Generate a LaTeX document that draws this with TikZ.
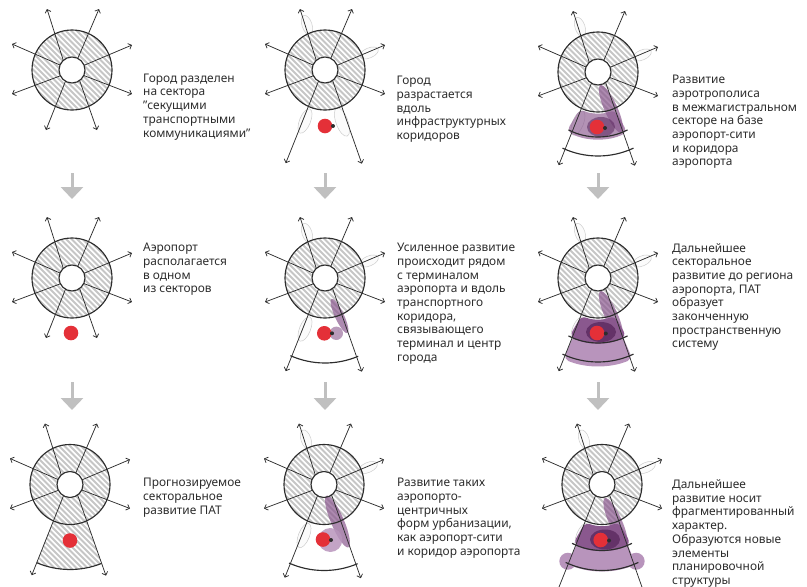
\documentclass[tikz,border=0pt]{standalone}
\usepackage{fontspec}
\setmainfont{Noto Sans}
\usetikzlibrary{calc,arrows.meta}

\definecolor{ink}{RGB}{45,45,45}
\definecolor{hatchgray}{RGB}{198,198,198}
\definecolor{flowgray}{RGB}{192,192,192}
\definecolor{dotred}{RGB}{228,48,56}
\definecolor{plumpale}{RGB}{184,148,188}
\definecolor{plummid}{RGB}{138,88,142}
\definecolor{plumdark}{RGB}{88,38,92}

\tikzset{
  ringline/.style={draw=ink, line width=1.15pt},
  hatchline/.style={draw=hatchgray, line width=2pt},
  cityarrow/.style={draw=ink, line width=0.75pt, -{Straight Barb[length=3pt,width=6pt]}},
  petal/.style={draw=gray!40, fill=gray!20, fill opacity=0.15, line width=0.5pt},
  corridor/.style={fill=plummid, fill opacity=0.7},
  flowarrow/.style={draw=flowgray, line width=3pt, -{Triangle[width=22pt,length=12pt]}},
  caption/.style={anchor=north west, align=left, inner sep=0pt, text=ink,
    font=\fontsize{11.9}{13.7}\selectfont},
}

\newcommand{\hatchfill}{%
  \foreach \k in {-121,-115.5,...,83} \draw[hatchline] (\k-90,-90) -- (\k+90,90);}

% #1 centre, #2 length of the two lower arrows, #3 under the arrows, #4 over them
\newcommand{\city}[4]{%
  \begin{scope}[shift={(#1)}]
    \begin{scope}
      \clip (0,0) circle (40);
      \hatchfill
    \end{scope}
    \fill[white] (0,0) circle (13);
    #3
    \draw[ringline] (0,0) circle (40) (0,0) circle (13);
    \draw[cityarrow] (-8.7,-9.6) -- (-25,-61);
    \draw[cityarrow] (5.8,-11.6) -- (27,-61);
    \draw[cityarrow] (12.1,-4.7) -- (60,-25);
    \draw[cityarrow] (11.8,5.5) -- (60,24);
    \draw[cityarrow] (-12,-5) -- (-60,-26);
    \draw[cityarrow] (-11.6,5.8) -- (-60,24);
    \draw[cityarrow] (-6.5,11.2) -- ($(-6.5,11.2)!#2!(-26,60)$);
    \draw[cityarrow] (7.6,10.5) -- ($(7.6,10.5)!#2!(25,60)$);
    #4
  \end{scope}}

\newcommand{\petals}{%
  \draw[petal, shift={(-18,-45)}, rotate=108] (0,0) ellipse [x radius=10, y radius=5];
  \draw[petal, shift={(44,-17)}, rotate=23] (0,0) ellipse [x radius=10, y radius=5];
  \draw[petal, shift={(-20,51)}, rotate=68] (0,0) ellipse [x radius=13, y radius=5.5];}

\begin{document}
\begin{tikzpicture}[x=1pt, y=-1pt]
\useasboundingbox (0,0) rectangle (807,587);
\clip (0,0) rectangle (807,587);

\coordinate (c1) at (72,70);
\coordinate (c2) at (325,70);
\coordinate (c3) at (598,72);
\coordinate (c4) at (72,278);
\coordinate (c5) at (325,278);
\coordinate (c6) at (598,278);
\coordinate (c7) at (70,484.5);
\coordinate (c8) at (324,484.5);
\coordinate (c9) at (602,484.5);

% first row
\city{c1}{1}{}{}
\city{c2}{1.68}{\petals
  \draw[petal, shift={(17,52)}, rotate=-70] (0,0) ellipse [x radius=15, y radius=6];}
 {\fill[dotred] (0,56) circle (7.3);
  \fill[ink] (8,56) circle (2);}
\city{c3}{1.68}{\petals
  \fill[plummid, fill opacity=0.65, rounded corners=6] (116:41) arc[start angle=116, end angle=66, radius=41]
    -- (64:67) arc[start angle=64, end angle=118, radius=67] -- cycle;
  \fill[corridor, shift={(13,37)}, rotate=-66] (0,0) ellipse [x radius=26, y radius=6.5];
  \fill[plumdark, fill opacity=0.55] (3,55) ellipse [x radius=14, y radius=10];}
 {\draw[ringline] (117:65) arc[start angle=117, end angle=63, radius=65];
  \draw[ringline] (115:84) arc[start angle=115, end angle=65, radius=84];
  \fill[dotred] (-1,55) circle (7.3);
  \fill[ink] (7,56) circle (2);}

% second row
\city{c4}{1}{}
 {\fill[dotred] (-1,55) circle (7.3);}
\city{c5}{1.68}{\petals
  \fill[corridor, shift={(14.5,38)}, rotate=-65] (0,0) ellipse [x radius=19, y radius=4.5];}
 {\draw[ringline] (114:85) arc[start angle=114, end angle=67, radius=85];
  \fill[plummid, fill opacity=0.6] (11.3,55.3) circle (6.7);
  \fill[dotred] (-0.7,55.3) circle (7.3);
  \fill[ink] (7,55.3) circle (2);}
\city{c6}{1.68}{\petals
  \fill[plumpale, rounded corners=5] (113:62) arc[start angle=113, end angle=67, radius=62]
    -- (67:88) arc[start angle=67, end angle=113, radius=88] -- cycle;
  \fill[plummid, rounded corners=6] (114:41) arc[start angle=114, end angle=66, radius=41]
    -- (64:65) arc[start angle=64, end angle=116, radius=65] -- cycle;
  \fill[corridor, shift={(13,37)}, rotate=-66] (0,0) ellipse [x radius=26, y radius=6.5];
  \fill[plumdark, fill opacity=0.75] (3,54) ellipse [x radius=15, y radius=10];}
 {\draw[ringline] (117:65) arc[start angle=117, end angle=63, radius=65];
  \draw[ringline] (115:84) arc[start angle=115, end angle=65, radius=84];
  \fill[dotred] (-1,55) circle (7.3);
  \fill[ink] (7.8,55.5) circle (2);}

% third row
\city{c7}{1.63}{%
  \begin{scope}
    \clip (-16,35) -- (113:85) arc[start angle=113, end angle=68.2, radius=85] -- (16,35) -- cycle;
    \hatchfill
  \end{scope}}
 {\draw[ringline] (113:85) arc[start angle=113, end angle=68.2, radius=85];
  \fill[dotred] (0,56) circle (7.3);}
\city{c8}{1.68}{\petals
  \fill[corridor, shift={(13.5,37)}, rotate=-67] (0,0) ellipse [x radius=28, y radius=6.5];
  \fill[plumpale, fill opacity=0.85] (6.3,55.5) circle (12);}
 {\draw[ringline] (114:86) arc[start angle=114, end angle=67, radius=86];
  \fill[dotred] (-1,55) circle (7.3);
  \fill[ink] (7,55.5) circle (2);}
\city{c9}{2.3}{\petals
  \fill[plumpale] (113:66) arc[start angle=113, end angle=67, radius=66]
    -- (67:87) arc[start angle=67, end angle=113, radius=87] -- cycle;
  \fill[plumpale] (114:84) circle (8.5) (66:84) circle (8.5);
  \fill[plummid, rounded corners=6] (114:41) arc[start angle=114, end angle=66, radius=41]
    -- (64:66) arc[start angle=64, end angle=116, radius=66] -- cycle;
  \fill[corridor, shift={(13.5,37.5)}, rotate=-66] (0,0) ellipse [x radius=26, y radius=6.5];
  \fill[plumdark, fill opacity=0.75] (3,55) ellipse [x radius=15, y radius=10];}
 {\draw[ringline] (117:66) arc[start angle=117, end angle=63, radius=66];
  \draw[ringline] (115:86) arc[start angle=115, end angle=65, radius=86];
  \fill[dotred] (-1.3,55.5) circle (7.3);
  \fill[ink] (7,56) circle (2);}

% steps
\draw[flowarrow] ($(c1)+(0,103)$) -- ++(0,26);
\draw[flowarrow] ($(c2)+(0,103)$) -- ++(0,26);
\draw[flowarrow] ($(c3)+(0,101)$) -- ++(0,26);
\draw[flowarrow] ($(c4)+(0,104)$) -- ++(0,28);
\draw[flowarrow] ($(c5)+(0,104)$) -- ++(0,28);
\draw[flowarrow] ($(c6)+(0,104)$) -- ++(0,28);

% captions
\node[caption] (t1) at (143,73.5) {Город разделен\\на сектора\\"секущими\\транспортными\\коммуникациями"};
\node[caption] (t2) at (396.5,76) {Город\\разрастается\\вдоль\\инфраструктурных\\коридоров};
\node[caption] (t3) at (672,75) {Развитие\\аэротрополиса\\в межмагистральном\\секторе на базе\\аэропорт-сити\\и коридора\\аэропорта};
\node[caption] (t4) at (143,243) {Аэропорт\\располагается\\в одном\\из секторов};
\node[caption] (t5) at (397,243) {Усиленное развитие\\происходит рядом\\с терминалом\\аэропорта и вдоль\\транспортного\\коридора,\\связывающего\\терминал и центр\\города};
\node[caption] (t6) at (672,243) {Дальнейшее\\секторальное\\развитие до региона\\аэропорта, ПАТ\\образует\\законченную\\пространственную\\систему};
\node[caption] (t7) at (143,478) {Прогнозируемое\\секторальное\\развитие ПАТ};
\node[caption] (t8) at (397,478) {Развитие таких\\аэропорто-\\центричных\\форм урбанизации,\\как аэропорт-сити\\и коридор аэропорта};
\node[caption] (t9) at (672,479.5) {Дальнейшее\\развитие носит\\фрагментированный\\характер.\\Образуются новые\\элементы\\планировочной\\структуры};
\end{tikzpicture}
\end{document}
